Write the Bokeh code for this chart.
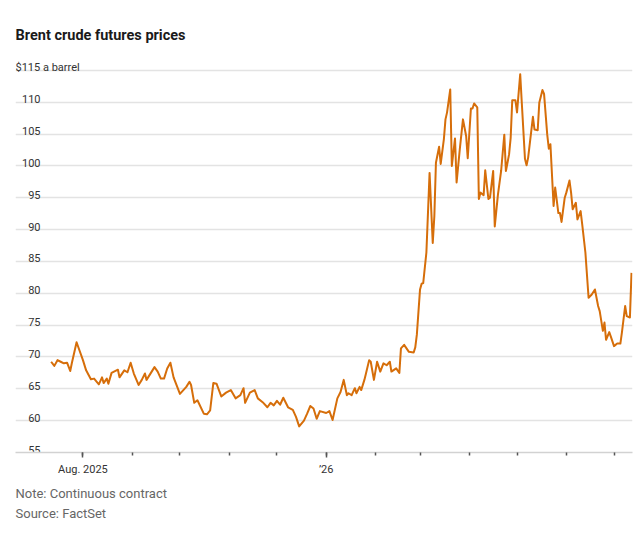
import pandas as pd
from bokeh.plotting import figure
from bokeh.models import Range1d, FixedTicker, ColumnDataSource, CustomJSTickFormatter, Title
from bokeh.core.properties import value
from bokeh.embed import file_html
from bokeh.resources import INLINE

# ---------------- data ----------------
dates = [
    "2025-07-12","2025-07-14","2025-07-16","2025-07-18","2025-07-20","2025-07-22","2025-07-24","2025-07-25","2025-07-28","2025-07-29",
    "2025-08-01","2025-08-03","2025-08-06","2025-08-08","2025-08-11","2025-08-13","2025-08-14","2025-08-16","2025-08-17","2025-08-19",
    "2025-08-23","2025-08-24","2025-08-27","2025-08-29","2025-08-31","2025-09-02","2025-09-05","2025-09-07","2025-09-09","2025-09-10",
    "2025-09-15","2025-09-17","2025-09-19","2025-09-21","2025-09-23","2025-09-25","2025-09-27","2025-10-01","2025-10-05","2025-10-07",
    "2025-10-08","2025-10-10","2025-10-12","2025-10-16","2025-10-18","2025-10-20","2025-10-22","2025-10-24","2025-10-27","2025-10-30",
    "2025-11-02","2025-11-05","2025-11-08","2025-11-10","2025-11-11","2025-11-14","2025-11-17","2025-11-19","2025-11-22","2025-11-25",
    "2025-11-27","2025-11-29","2025-12-01","2025-12-03","2025-12-05","2025-12-08","2025-12-11","2025-12-13","2025-12-15","2025-12-18",
    "2025-12-20","2025-12-22","2025-12-24","2025-12-26","2025-12-28","2026-01-01","2026-01-03","2026-01-05","2026-01-08","2026-01-10",
    "2026-01-12","2026-01-14","2026-01-15","2026-01-17","2026-01-19","2026-01-20","2026-01-22","2026-01-23","2026-01-25","2026-01-26",
    "2026-01-28","2026-01-29","2026-01-31","2026-02-02","2026-02-04","2026-02-06","2026-02-08","2026-02-10","2026-02-11","2026-02-14",
    "2026-02-16","2026-02-17","2026-02-19","2026-02-22","2026-02-25","2026-02-26","2026-02-27","2026-03-01","2026-03-02","2026-03-03",
    "2026-03-05","2026-03-07","2026-03-09","2026-03-10","2026-03-11","2026-03-13","2026-03-14","2026-03-16","2026-03-17","2026-03-18",
    "2026-03-20","2026-03-21","2026-03-23","2026-03-24","2026-03-26","2026-03-28","2026-03-30","2026-03-31","2026-04-02","2026-04-03",
    "2026-04-04","2026-04-06","2026-04-07","2026-04-08","2026-04-10","2026-04-11","2026-04-13","2026-04-14","2026-04-16","2026-04-17",
    "2026-04-19","2026-04-21","2026-04-23","2026-04-24","2026-04-26","2026-04-27","2026-04-28","2026-04-30","2026-05-01","2026-05-03",
    "2026-05-04","2026-05-06","2026-05-07","2026-05-08","2026-05-11","2026-05-12","2026-05-14","2026-05-15","2026-05-17","2026-05-18",
    "2026-05-20","2026-05-21","2026-05-22","2026-05-24","2026-05-25","2026-05-27","2026-05-28","2026-05-29","2026-05-31","2026-06-01",
    "2026-06-03","2026-06-04","2026-06-05","2026-06-07","2026-06-08","2026-06-10","2026-06-11","2026-06-13","2026-06-15","2026-06-17",
    "2026-06-19","2026-06-21","2026-06-22","2026-06-24","2026-06-25","2026-06-26","2026-06-28","2026-06-29","2026-07-01","2026-07-03",
    "2026-07-05","2026-07-06","2026-07-08","2026-07-09","2026-07-11","2026-07-12",
]

prices = [
    69.25, 68.6, 69.5, 69.25, 69.0, 69.1, 67.8, 69.0, 72.3, 71.6,
    69.5, 67.9, 66.5, 66.6, 65.7, 66.8, 65.9, 66.6, 65.8, 67.5,
    68.0, 66.8, 67.9, 67.6, 69.1, 67.4, 65.6, 66.4, 67.4, 66.4,
    68.4, 67.7, 66.6, 66.6, 68.2, 69.1, 66.8, 64.2, 65.3, 66.1,
    65.6, 62.8, 63.2, 61.1, 61.0, 61.6, 65.9, 65.8, 63.8, 64.4,
    64.8, 63.5, 64.0, 65.1, 62.8, 64.4, 64.8, 63.5, 62.9, 62.1,
    62.8, 62.4, 63.1, 62.5, 63.6, 62.1, 61.7, 60.6, 59.1, 60.0,
    61.1, 62.3, 61.9, 60.3, 61.5, 61.2, 61.5, 60.1, 63.5, 64.5,
    66.4, 64.0, 64.3, 64.0, 65.1, 64.3, 65.3, 64.8, 66.4, 67.4,
    69.5, 69.25, 66.4, 69.25, 67.7, 69.0, 68.7, 69.25, 67.7, 68.2,
    67.5, 71.35, 71.9, 70.8, 70.7, 71.5, 73.5, 80.6, 81.5, 81.6,
    86.4, 98.9, 87.9, 92.1, 100.5, 103.0, 100.3, 104.2, 107.3, 108.4,
    112.0, 100.0, 104.3, 97.4, 102.6, 107.3, 104.7, 101.2, 109.0, 109.0,
    109.8, 109.2, 94.8, 95.8, 95.4, 99.3, 94.8, 95.0, 99.2, 90.5,
    95.5, 99.2, 104.9, 99.2, 101.8, 104.4, 110.3, 110.3, 108.4, 114.4,
    109.9, 101.1, 100.1, 101.3, 107.7, 105.7, 105.6, 109.9, 111.9, 111.3,
    104.9, 102.7, 103.4, 93.7, 96.6, 92.6, 92.6, 91.2, 95.0, 95.8,
    97.7, 95.8, 93.2, 94.2, 91.6, 92.9, 90.8, 86.4, 79.3, 79.8,
    80.6, 78.0, 77.2, 74.1, 75.4, 72.7, 73.9, 73.2, 71.7, 72.1,
    72.1, 73.9, 78.0, 76.4, 76.2, 83.2,
]

y_ticks = [55, 60, 65, 70, 75, 80, 85, 90, 95, 100, 105, 110, 115]
y_tick_labels = ["55", "60", "65", "70", "75", "80", "85", "90", "95", "100", "105", "110", "$115 a barrel"]
x_tick_dates = ["2025-08-01", "2026-01-01"]
x_tick_labels = ["Aug. 2025", "\u201926"]
month_ticks = ["2025-08-01", "2025-09-01", "2025-10-01", "2025-11-01", "2025-12-01", "2026-01-01",
               "2026-02-01", "2026-03-01", "2026-04-01", "2026-05-01", "2026-06-01", "2026-07-01"]
x_start = "2025-06-19 14:00"
x_end = "2026-07-12 15:00"
title_text = "Brent crude futures prices"
footer_lines = ["Note: Continuous contract", "Source: FactSet"]

# ---------------- figure ----------------
def ms(s):
    return int(pd.Timestamp(s).value // 10**6)

W, H = 640, 537
FONT = "Roboto"

p = figure(width=W, height=H, output_backend="svg", toolbar_location=None,
           x_axis_type="datetime", y_axis_location=None,
           x_range=Range1d(pd.Timestamp(x_start), pd.Timestamp(x_end)),
           y_range=Range1d(55, 117.8),
           min_border_left=15, min_border_right=8, min_border_top=52, min_border_bottom=85)
p.outline_line_color = None
p.background_fill_color = "white"
p.border_fill_color = "white"

p.title = Title(text=title_text, align="left", text_font=FONT, text_font_style="bold",
                text_font_size="14.5px", text_color="#1a1a1a", standoff=17)

p.xgrid.visible = False
p.ygrid.ticker = FixedTicker(ticks=y_ticks)
p.ygrid.grid_line_color = "#e3e3e3"
p.ygrid.grid_line_width = 1.5

tick_ms = [ms(d) for d in x_tick_dates]
xa = p.xaxis[0]
xa.ticker = FixedTicker(ticks=tick_ms, minor_ticks=[ms(d) for d in month_ticks])
xa.formatter = CustomJSTickFormatter(args=dict(tvals=tick_ms, tlabels=x_tick_labels), code="""
    for (let i = 0; i < tvals.length; i++) {
        if (Math.abs(tvals[i] - tick) < 1000) return tlabels[i];
    }
    return '';
""")
xa.major_label_text_font = FONT
xa.major_label_text_font_size = "11px"
xa.major_label_text_color = "#333333"
xa.major_label_standoff = 5
xa.axis_line_color = "#d2d2d2"
xa.axis_line_width = 1.5
xa.major_tick_line_color = "#555555"
xa.minor_tick_line_color = "#555555"
xa.major_tick_line_width = 1.5
xa.minor_tick_line_width = 1.5
xa.major_tick_in = 0
xa.major_tick_out = 5
xa.minor_tick_in = 0
xa.minor_tick_out = 3

# price line
src = ColumnDataSource(dict(date=pd.to_datetime(dates), price=prices))
p.line(x="date", y="price", source=src, line_color="#d66e0a", line_width=2, line_join="round")

# y tick labels inside the plot, above gridlines
lab_src = ColumnDataSource(dict(x=[pd.Timestamp(x_start)] * (len(y_ticks) - 1),
                                y=y_ticks[:-1], t=y_tick_labels[:-1]))
p.text(x="x", y="y", text="t", source=lab_src, x_offset=25, y_offset=-3,
       text_align="right", text_baseline="alphabetic",
       text_font=value(FONT), text_font_size=value("11px"), text_color="#333333")
top_src = ColumnDataSource(dict(x=[pd.Timestamp(x_start)], y=[y_ticks[-1]], t=[y_tick_labels[-1]]))
p.text(x="x", y="y", text="t", source=top_src, x_offset=0, y_offset=-3,
       text_align="left", text_baseline="alphabetic",
       text_font=value(FONT), text_font_size=value("11px"), text_color="#333333")

# footer
for i, line in enumerate(footer_lines):
    p.add_layout(Title(text=line, align="left", text_font=FONT, text_font_style="normal",
                       text_font_size="13px", text_color="#666666",
                       standoff=(10 if i == 0 else -4)), "below")

open("out.html", "w").write(file_html(p, INLINE))
